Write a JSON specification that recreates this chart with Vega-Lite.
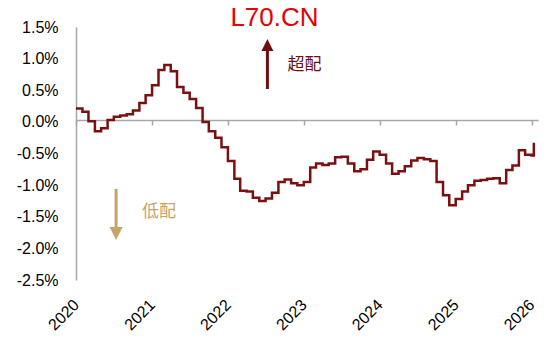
{
  "$schema": "https://vega.github.io/schema/vega-lite/v6.json",
  "width": 462,
  "height": 253,
  "autosize": "none",
  "padding": {"left": 76, "top": 27, "right": 12, "bottom": 61},
  "background": "white",
  "config": {"view": {"stroke": null}, "font": "Liberation Sans"},
  "resolve": {"axis": {"x": "independent", "y": "independent"}},
  "layer": [
    {
      "data": {"values": [
        {"date": "2020-01-01", "value": 0.21},
        {"date": "2020-02-01", "value": 0.16},
        {"date": "2020-03-01", "value": 0.01},
        {"date": "2020-04-01", "value": -0.15},
        {"date": "2020-05-01", "value": -0.1},
        {"date": "2020-06-01", "value": 0.03},
        {"date": "2020-07-01", "value": 0.08},
        {"date": "2020-08-01", "value": 0.1},
        {"date": "2020-09-01", "value": 0.12},
        {"date": "2020-10-01", "value": 0.18},
        {"date": "2020-11-01", "value": 0.3},
        {"date": "2020-12-01", "value": 0.42},
        {"date": "2021-01-01", "value": 0.58},
        {"date": "2021-02-01", "value": 0.82},
        {"date": "2021-03-01", "value": 0.9},
        {"date": "2021-04-01", "value": 0.8},
        {"date": "2021-05-01", "value": 0.55},
        {"date": "2021-06-01", "value": 0.46},
        {"date": "2021-07-01", "value": 0.36},
        {"date": "2021-08-01", "value": 0.22},
        {"date": "2021-09-01", "value": 0.0},
        {"date": "2021-10-01", "value": -0.15},
        {"date": "2021-11-01", "value": -0.25},
        {"date": "2021-12-01", "value": -0.4},
        {"date": "2022-01-01", "value": -0.62},
        {"date": "2022-02-01", "value": -0.9},
        {"date": "2022-03-01", "value": -1.09},
        {"date": "2022-04-01", "value": -1.1},
        {"date": "2022-05-01", "value": -1.2},
        {"date": "2022-06-01", "value": -1.25},
        {"date": "2022-07-01", "value": -1.21},
        {"date": "2022-08-01", "value": -1.12},
        {"date": "2022-09-01", "value": -0.95},
        {"date": "2022-10-01", "value": -0.91},
        {"date": "2022-11-01", "value": -0.97},
        {"date": "2022-12-01", "value": -1.0},
        {"date": "2023-01-01", "value": -0.95},
        {"date": "2023-02-01", "value": -0.72},
        {"date": "2023-03-01", "value": -0.66},
        {"date": "2023-04-01", "value": -0.68},
        {"date": "2023-05-01", "value": -0.66},
        {"date": "2023-06-01", "value": -0.56},
        {"date": "2023-07-01", "value": -0.55},
        {"date": "2023-08-01", "value": -0.66},
        {"date": "2023-09-01", "value": -0.78},
        {"date": "2023-10-01", "value": -0.75},
        {"date": "2023-11-01", "value": -0.6},
        {"date": "2023-12-01", "value": -0.47},
        {"date": "2024-01-01", "value": -0.52},
        {"date": "2024-02-01", "value": -0.66},
        {"date": "2024-03-01", "value": -0.82},
        {"date": "2024-04-01", "value": -0.78},
        {"date": "2024-05-01", "value": -0.7},
        {"date": "2024-06-01", "value": -0.61},
        {"date": "2024-07-01", "value": -0.57},
        {"date": "2024-08-01", "value": -0.59},
        {"date": "2024-09-01", "value": -0.62},
        {"date": "2024-10-01", "value": -0.95},
        {"date": "2024-11-01", "value": -1.16},
        {"date": "2024-12-01", "value": -1.32},
        {"date": "2025-01-01", "value": -1.22},
        {"date": "2025-02-01", "value": -1.1},
        {"date": "2025-03-01", "value": -1.0},
        {"date": "2025-04-01", "value": -0.93},
        {"date": "2025-05-01", "value": -0.92},
        {"date": "2025-06-01", "value": -0.9},
        {"date": "2025-07-01", "value": -0.89},
        {"date": "2025-08-01", "value": -0.97},
        {"date": "2025-09-01", "value": -0.76},
        {"date": "2025-10-01", "value": -0.69},
        {"date": "2025-11-01", "value": -0.45},
        {"date": "2025-12-01", "value": -0.52},
        {"date": "2026-01-01", "value": -0.53},
        {"date": "2026-01-12", "value": -0.33}
      ]},
      "mark": {"type": "line", "interpolate": "step-after", "color": "#7A1010", "strokeWidth": 2.5},
      "encoding": {
        "x": {
          "field": "date", "type": "temporal",
          "scale": {"type": "utc", "domain": [{"year": 2020, "month": 1, "date": 1, "utc": true}, {"year": 2026, "month": 2, "date": 1, "utc": true}]},
          "axis": {
            "orient": "bottom", "offset": -160,
            "values": [
              {"year": 2020, "month": 1, "date": 1, "utc": true},
              {"year": 2021, "month": 1, "date": 1, "utc": true},
              {"year": 2022, "month": 1, "date": 1, "utc": true},
              {"year": 2023, "month": 1, "date": 1, "utc": true},
              {"year": 2024, "month": 1, "date": 1, "utc": true},
              {"year": 2025, "month": 1, "date": 1, "utc": true},
              {"year": 2026, "month": 1, "date": 1, "utc": true}
            ],
            "format": "%Y", "title": null, "grid": false,
            "domainColor": "#A6A6A6", "domainWidth": 1.5,
            "tickColor": "#A6A6A6", "tickWidth": 1.5, "tickSize": 5,
            "labelAngle": -45, "labelAlign": "right", "labelBaseline": "middle",
            "labelPadding": 177, "labelFontSize": 16, "labelColor": "#000000",
            "labelFont": "Liberation Sans", "labelFlush": false, "labelOverlap": false, "labelBound": false
          }
        },
        "y": {
          "field": "value", "type": "quantitative",
          "scale": {"domain": [-2.5, 1.5], "nice": false, "zero": false},
          "axis": {
            "orient": "left",
            "values": [-2.5, -2, -1.5, -1, -0.5, 0, 0.5, 1, 1.5],
            "labelExpr": "(datum.value < 0 ? '-' + format(-datum.value, '.1f') : format(datum.value, '.1f')) + '%'",
            "title": null, "grid": false, "ticks": false,
            "domainColor": "#A6A6A6", "domainWidth": 1.5,
            "labelPadding": 18, "labelFontSize": 16, "labelColor": "#000000",
            "labelFont": "Liberation Sans", "labelFlush": false, "labelOverlap": false, "labelSeparation": 0
          }
        }
      }
    },
    {
      "data": {"values": [
        {"date": "2022-07-10", "v1": 0.52, "v2": 1.14, "dir": "up"},
        {"date": "2020-07-12", "v1": -1.06, "v2": -1.68, "dir": "down"}
      ]},
      "mark": {"type": "rule", "strokeWidth": 3},
      "encoding": {
        "x": {"field": "date", "type": "temporal", "axis": null},
        "y": {"field": "v1", "type": "quantitative", "axis": null},
        "y2": {"field": "v2"},
        "color": {"field": "dir", "type": "nominal", "scale": {"domain": ["up", "down"], "range": ["#6E0E0E", "#C5A468"]}, "legend": null}
      }
    },
    {
      "data": {"values": [{"date": "2022-07-10", "value": 1.217}]},
      "mark": {"type": "point", "shape": "M0,-1L-1,1L1,1Z", "size": 144, "filled": true, "opacity": 1, "color": "#6E0E0E", "strokeWidth": 0},
      "encoding": {
        "x": {"field": "date", "type": "temporal", "axis": null},
        "y": {"field": "value", "type": "quantitative", "axis": null}
      }
    },
    {
      "data": {"values": [{"date": "2020-07-12", "value": -1.763}]},
      "mark": {"type": "point", "shape": "M0,1L-1,-1L1,-1Z", "size": 169, "filled": true, "opacity": 1, "color": "#C5A468", "strokeWidth": 0},
      "encoding": {
        "x": {"field": "date", "type": "temporal", "axis": null},
        "y": {"field": "value", "type": "quantitative", "axis": null}
      }
    },
    {
      "data": {"values": [
        {"date": "2022-10-15", "value": 0.9, "label": "超配", "kind": "up"},
        {"date": "2020-11-13", "value": -1.423, "label": "低配", "kind": "down"}
      ]},
      "mark": {"type": "text", "align": "left", "baseline": "middle", "fontSize": 17, "font": "Noto Sans CJK SC"},
      "encoding": {
        "x": {"field": "date", "type": "temporal", "axis": null},
        "y": {"field": "value", "type": "quantitative", "axis": null},
        "text": {"field": "label"},
        "color": {"field": "kind", "type": "nominal", "scale": {"domain": ["up", "down"], "range": ["#6B0F0F", "#C5A468"]}, "legend": null}
      }
    },
    {
      "data": {"values": [{"date": "2022-08-13", "value": 1.515, "label": "L70.CN"}]},
      "mark": {"type": "text", "align": "center", "baseline": "alphabetic", "fontSize": 26, "font": "Liberation Sans", "color": "#E60000"},
      "encoding": {
        "x": {"field": "date", "type": "temporal", "axis": null},
        "y": {"field": "value", "type": "quantitative", "axis": null},
        "text": {"field": "label"}
      }
    }
  ]
}
